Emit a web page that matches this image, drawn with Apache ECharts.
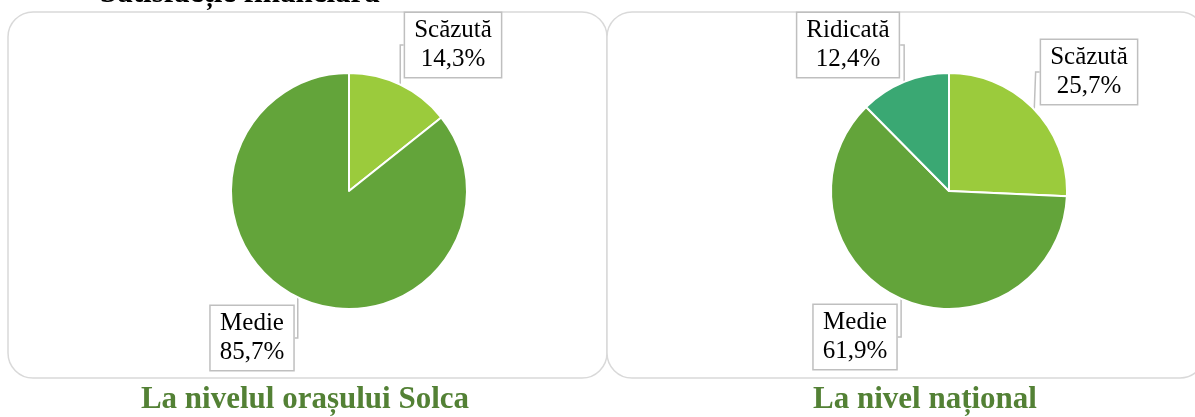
<!DOCTYPE html>
<html>
<head>
<meta charset="utf-8">
<script src="https://cdn.jsdelivr.net/npm/echarts@6/dist/echarts.min.js"></script>
<style>
  html, body { margin: 0; padding: 0; background: #ffffff; }
  #chart { width: 1195px; height: 417px; }
</style>
</head>
<body>
<div id="chart"></div>
<script>
// Satisfacție financiară: local (Solca) vs. national shares
const localCategories = ['Scăzută', 'Medie'];
const localValues = [14.3, 85.7];
const nationalCategories = ['Scăzută', 'Medie', 'Ridicată'];
const nationalValues = [25.7, 61.9, 12.4];
const captions = ['La nivelul orașului Solca', 'La nivel național'];
const headline = 'Satisfacție financiară';

const sliceColors = {
  'Scăzută': '#9BCB3C',
  'Medie': '#63A43A',
  'Ridicată': '#3AA873'
};

// label box centres (px) per pie, in slice order
const labelSpots = [
  [[453, 45], [252, 338]],
  [[1089, 72], [855, 337], [848, 45]]
];

const serif = '"Liberation Serif", "Times New Roman", serif';

function toData(names, values) {
  return names.map((n, i) => ({ name: n, value: values[i], itemStyle: { color: sliceColors[n] } }));
}

function pctText(v) {
  return v.toFixed(1).replace('.', ',') + '%';
}

function pieSeries(names, values, center, idx) {
  return {
    type: 'pie',
    center: center,
    radius: 118,
    startAngle: 90,
    clockwise: true,
    animation: false,
    itemStyle: { borderColor: '#ffffff', borderWidth: 2 },
    label: {
      show: true,
      formatter: p => p.name + '\n' + pctText(p.value),
      fontFamily: serif,
      fontSize: 25,
      lineHeight: 29,
      color: '#000000',
      backgroundColor: '#ffffff',
      borderColor: '#BFBFBF',
      borderWidth: 1.5,
      padding: [4, 9, 2, 9],
      align: 'center'
    },
    labelLine: {
      show: true,
      length: 4,
      length2: 4,
      lineStyle: { color: '#BFBFBF', width: 1.5 }
    },
    labelLayout: function (params) {
      const s = labelSpots[idx][params.dataIndex];
      return { x: s[0], y: s[1], align: 'center', verticalAlign: 'middle' };
    },
    emphasis: { disabled: true },
    data: toData(names, values)
  };
}

const chart = echarts.init(document.getElementById('chart'), null, { renderer: 'canvas' });

chart.setOption({
  backgroundColor: '#ffffff',
  graphic: [
    {
      type: 'rect', z: 0,
      shape: { x: 8, y: 12, width: 599, height: 366, r: 25 },
      style: { fill: '#ffffff', stroke: '#D9D9D9', lineWidth: 1.5 }
    },
    {
      type: 'rect', z: 0,
      shape: { x: 607, y: 12, width: 598, height: 366, r: 25 },
      style: { fill: '#ffffff', stroke: '#D9D9D9', lineWidth: 1.5 }
    },
    {
      type: 'text', z: 1, x: 100, y: 9,
      style: {
        text: headline,
        font: 'bold 31px ' + serif,
        fill: '#000000',
        textAlign: 'left',
        textVerticalAlign: 'bottom'
      }
    },
    {
      type: 'text', z: 1, x: 305, y: 400,
      style: {
        text: captions[0],
        font: 'bold 31px ' + serif,
        fill: '#538135',
        textAlign: 'center',
        textVerticalAlign: 'middle'
      }
    },
    {
      type: 'text', z: 1, x: 925, y: 400,
      style: {
        text: captions[1],
        font: 'bold 31px ' + serif,
        fill: '#538135',
        textAlign: 'center',
        textVerticalAlign: 'middle'
      }
    }
  ],
  series: [
    pieSeries(localCategories, localValues, [349, 191], 0),
    pieSeries(nationalCategories, nationalValues, [949, 191], 1)
  ]
});
</script>
</body>
</html>
